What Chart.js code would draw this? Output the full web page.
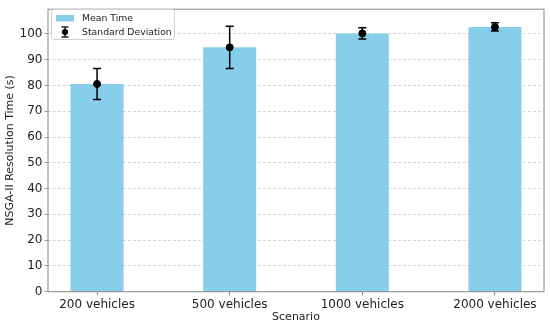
<!DOCTYPE html>
<html>
<head>
<meta charset="utf-8">
<script src="https://cdn.jsdelivr.net/npm/chart.js@4.4.1/dist/chart.umd.min.js"></script>
<style>
  html, body { margin: 0; padding: 0; background: #fff; }
  #wrap { position: relative; width: 550px; height: 325px; }
  #legend {
    position: absolute; left: 51px; top: 9px; width: 124px; height: 31px;
    border: 1px solid #d0d0d0; border-radius: 3px; background: rgba(255,255,255,0.85);
    box-sizing: border-box; font-family: 'DejaVu Sans', sans-serif; font-size: 9.3px; color: #222;
  }
  .item { position: absolute; left: 0; height: 12px; line-height: 12px; white-space: nowrap; }
  .item span { position: absolute; left: 30px; top: 0; }
  .item svg { position: absolute; left: 4px; top: 0; }
</style>
</head>
<body>
<div id="wrap">
  <canvas id="chart" width="550" height="325"></canvas>
  <div id="legend">
    <div class="item" style="top:1.5px;">
      <svg width="20" height="12"><rect x="0" y="3" width="18" height="6.5" fill="#87CEEB"/></svg>
      <span>Mean Time</span>
    </div>
    <div class="item" style="top:15.5px;">
      <svg width="20" height="12">
        <line x1="9" y1="1" x2="9" y2="11" stroke="#000" stroke-width="1.3"/>
        <line x1="5.5" y1="1" x2="12.5" y2="1" stroke="#000" stroke-width="1.3"/>
        <line x1="5.5" y1="11" x2="12.5" y2="11" stroke="#000" stroke-width="1.3"/>
        <circle cx="9" cy="6" r="3" fill="#000"/>
      </svg>
      <span>Standard Deviation</span>
    </div>
  </div>
</div>
<script>
const categories = ['200 vehicles', '500 vehicles', '1000 vehicles', '2000 vehicles'];
const meanTime = [80.6, 94.8, 100.2, 102.7];
const stdDev = [6.0, 8.2, 2.2, 1.6];
const yTicks = [0, 10, 20, 30, 40, 50, 60, 70, 80, 90, 100];

const FONT = 'DejaVu Sans';

// error bars + frame
const errorBars = {
    id: 'errorBars',
    afterDatasetDraw(chart, args) {
        if (args.meta.type !== 'bar') return;
        const ctx = chart.ctx;
        const xs = chart.scales.x, ys = chart.scales.y;
        ctx.save();
        ctx.strokeStyle = '#000';
        ctx.lineWidth = 1.5;
        for (let i = 0; i < meanTime.length; i++) {
            const x = xs.getPixelForValue(i);
            const top = ys.getPixelForValue(meanTime[i] + stdDev[i]);
            const bot = ys.getPixelForValue(meanTime[i] - stdDev[i]);
            ctx.beginPath();
            ctx.moveTo(x, top); ctx.lineTo(x, bot);
            ctx.moveTo(x - 4, top); ctx.lineTo(x + 4, top);
            ctx.moveTo(x - 4, bot); ctx.lineTo(x + 4, bot);
            ctx.stroke();
        }
        ctx.restore();
    },
    afterDatasetsDraw(chart) {
        const {ctx, chartArea: a} = chart;
        ctx.save();
        ctx.strokeStyle = '#888';
        ctx.lineWidth = 1;
        ctx.strokeRect(a.left, a.top, a.right - a.left, a.bottom - a.top);
        ctx.restore();
    }
};

const ctx = document.getElementById('chart').getContext('2d');

new Chart(ctx, {
    type: 'bar',
    data: {
        datasets: [{
            type: 'bar',
            label: 'Mean Time',
            data: meanTime.map((v, i) => ({x: i, y: v})),
            backgroundColor: '#87CEEB',
            borderWidth: 0,
            barPercentage: 0.4,
            categoryPercentage: 1.0,
            order: 1
        }, {
            type: 'scatter',
            label: 'Standard Deviation',
            data: meanTime.map((v, i) => ({x: i, y: v})),
            backgroundColor: '#000',
            borderColor: '#000',
            pointRadius: 3.5,
            showLine: false,
            order: 0
        }]
    },
    options: {
        responsive: false,
        animation: false,
        layout: { padding: { top: 5, right: 6, left: 0, bottom: 0 } },
        plugins: {
            legend: { display: false },
            tooltip: { enabled: false }
        },
        scales: {
            x: {
                type: 'linear',
                min: -0.37,
                max: 3.37,
                offset: false,
                afterBuildTicks: (scale) => { scale.ticks = categories.map((c, i) => ({value: i})); },
                afterFit: (scale) => { scale.height = 33.3; },
                grid: { offset: false, drawOnChartArea: false, drawTicks: true, tickLength: 3.5, tickColor: '#888' },
                border: { display: false },
                ticks: {
                    autoSkip: false, maxRotation: 0, padding: 2,
                    color: '#222', font: { family: FONT, size: 12 },
                    callback: (v) => categories[v]
                },
                title: {
                    display: true, text: 'Scenario', color: '#222',
                    font: { family: FONT, size: 11 }, padding: { top: 0, bottom: 1.5 }
                }
            },
            y: {
                min: 0,
                max: 109.6,
                afterBuildTicks: (scale) => { scale.ticks = yTicks.map(v => ({value: v})); },
                afterFit: (scale) => { scale.width = 48; },
                grid: { color: '#cccccc', lineWidth: 0.8, tickColor: '#888', tickLength: 3.5 },
                border: { display: false, dash: [3, 2] },
                ticks: {
                    padding: 2, color: '#222', font: { family: FONT, size: 12 }
                },
                title: {
                    display: true, text: 'NSGA-II Resolution Time (s)', color: '#222',
                    font: { family: FONT, size: 11 }, padding: { top: 3.5, bottom: 0 }
                }
            }
        }
    },
    plugins: [errorBars]
});
</script>
</body>
</html>
